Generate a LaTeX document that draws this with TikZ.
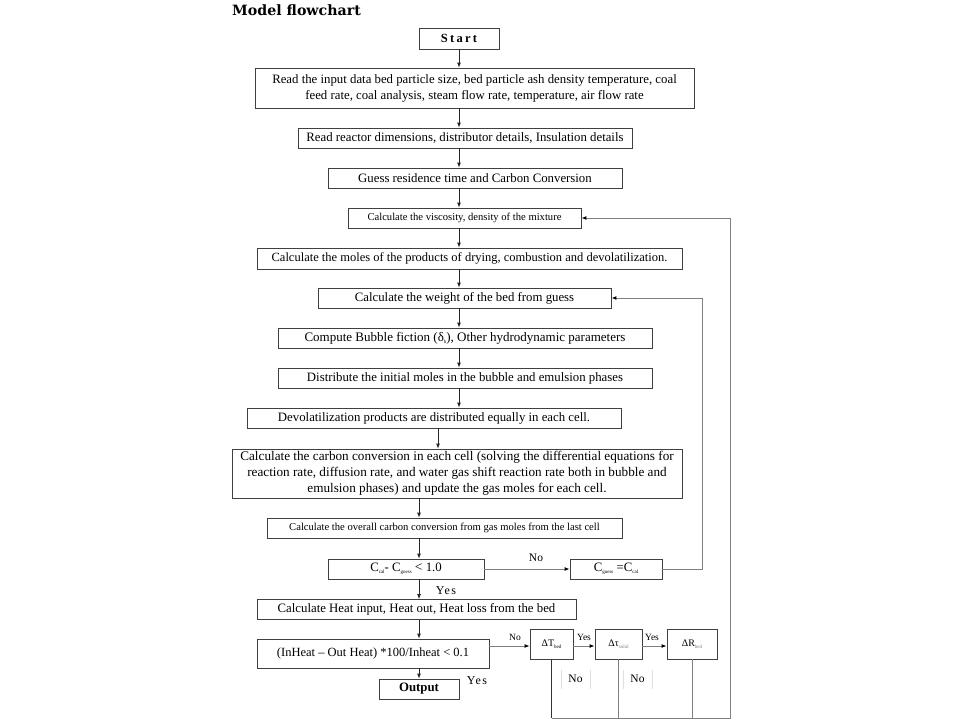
\documentclass[tikz,border=0pt]{standalone}
\usepackage{fontspec}
\setmainfont{Liberation Serif}
\newfontfamily\titlefont{DejaVu Serif}
\newfontfamily\spacedfont[LetterSpace=12]{Liberation Serif}
\newfontfamily\startfont[LetterSpace=18]{Liberation Serif}
\usetikzlibrary{arrows.meta}
\newcommand{\mysub}[1]{\raisebox{-0.35ex}{\fontsize{5}{5}\selectfont #1}}
\newcommand{\fs}[1]{\fontsize{#1}{16}\selectfont}
\begin{document}
\begin{tikzpicture}[x=1pt,y=-1pt,
  box/.style={draw=black!75, line width=0.8pt, fill=white, inner sep=0pt, align=center,
    font=\fs{12.8}},
  arr/.style={draw=black!85, line width=0.8pt, -{Latex[length=5pt,width=4pt]}},
  fb/.style={draw=black!50, line width=1pt},
  fbarr/.style={fb, -{Latex[length=5pt,width=4pt,color=black]}},
  lbl/.style={inner sep=0pt, font=\fontsize{11.5}{13}\selectfont},
  ylbl/.style={inner sep=0pt, font=\spacedfont\fontsize{12}{13}\selectfont},
  slbl/.style={inner sep=0pt, font=\fontsize{9.5}{11}\selectfont},
  faint/.style={draw=black!12, line width=0.6pt}]
\useasboundingbox (0,0) rectangle (960,720);
\fill[white] (0,0) rectangle (960,720);

\node[anchor=west, inner sep=0pt, font=\titlefont\bfseries\fontsize{14.2}{16}\selectfont] (title) at (232,10) {Model flowchart};

% main column boxes
\node[box, minimum width=80, minimum height=21, font=\startfont\bfseries\fontsize{12.5}{13}\selectfont] (start) at (459,38.5) {Start};
\node[box, minimum width=439, minimum height=40] (input) at (474.5,88) {Read the input data bed particle size, bed particle ash density temperature, coal\\feed rate, coal analysis, steam flow rate, temperature, air flow rate};
\node[box, minimum width=334, minimum height=20] (reactor) at (465,138) {Read reactor dimensions, distributor details, Insulation details};
\node[box, minimum width=294, minimum height=20, font=\fs{12.8}] (guess) at (475,178) {Guess residence time and Carbon Conversion};
\node[box, minimum width=233, minimum height=20, font=\fs{10.6}] (visc) at (464.5,218) {Calculate the viscosity, density of the mixture};
\node[box, minimum width=425, minimum height=21, font=\fs{12.5}] (moles) at (469.5,258.5) {\raisebox{-2pt}{Calculate the moles of the products of drying, combustion and devolatilization.}};
\node[box, minimum width=293, minimum height=20] (weight) at (464.5,298) {\raisebox{-3pt}{Calculate the weight of the bed from guess}};
\node[box, minimum width=374, minimum height=20, font=\fs{13}] (bubble) at (465,338) {\raisebox{-3pt}{Compute Bubble fiction (δ\mysub{b}), Other hydrodynamic parameters}};
\node[box, minimum width=374, minimum height=20] (distr) at (465,378) {\raisebox{-1pt}{Distribute the initial moles in the bubble and emulsion phases}};
\node[box, minimum width=374, minimum height=20] (devol) at (434,418) {\raisebox{-2pt}{Devolatilization products are distributed equally in each cell.}};
\node[box, minimum width=450, minimum height=49, font=\fs{13.2}] (carbon) at (457,473.5) {\raisebox{-2pt}{\parbox{448pt}{\centering Calculate the carbon conversion in each cell (solving the differential equations for\\reaction rate, diffusion rate, and water gas shift reaction rate both in bubble and\\emulsion phases) and update the gas moles for each cell.}}};
\node[box, minimum width=355, minimum height=20, font=\fs{10.6}] (overall) at (444.5,528) {Calculate the overall carbon conversion from gas moles from the last cell};
\node[box, minimum width=156, minimum height=20] (ccal) at (406,569) {C\mysub{cal}- C\mysub{guess} {\fontsize{13.5}{14}\selectfont <} 1.0};
\node[box, minimum width=92, minimum height=20] (cguess) at (616,569) {C\mysub{guess} =C\mysub{cal}};
\node[box, minimum width=319, minimum height=20] (heat) at (416.5,609.5) {Calculate Heat input, Heat out, Heat loss from the bed};
\node[box, minimum width=232, minimum height=29, font=\fs{12.5}] (inheat) at (373,653.5) {(InHeat – Out Heat) *100/Inheat < 0.1};
\node[box, minimum width=80, minimum height=20, font=\bfseries\fontsize{12.8}{13}\selectfont] (output) at (419,689) {Output};

% check boxes
\node[box, minimum width=43, minimum height=30, font=\fontsize{10}{12}\selectfont] (dT) at (551.5,644) {ΔT\mysub{bed}};
\node[box, minimum width=47, minimum height=30, font=\fontsize{10}{12}\selectfont] (dtau) at (618.5,644) {Δτ\mysub{\color{black!50}solid}};
\node[box, minimum width=50, minimum height=30, font=\fontsize{10}{12}\selectfont] (dR) at (692,644) {ΔR\mysub{\color{black!50}bed}};

% axes for vertical arrows
\coordinate (axA) at (459,0);
\coordinate (axB) at (438,0);
\coordinate (axC) at (419,0);

\draw[arr] (start.south -| axA) -- (input.north -| axA);
\draw[arr] (input.south -| axA) -- (reactor.north -| axA);
\draw[arr] (reactor.south -| axA) -- (guess.north -| axA);
\draw[arr] (guess.south -| axA) -- (visc.north -| axA);
\draw[arr] (visc.south -| axA) -- (moles.north -| axA);
\draw[arr] (moles.south -| axA) -- (weight.north -| axA);
\draw[arr] (weight.south -| axA) -- (bubble.north -| axA);
\draw[arr] (bubble.south -| axA) -- (distr.north -| axA);
\draw[arr] (distr.south -| axA) -- (devol.north -| axA);
\draw[arr] (devol.south -| axB) -- (carbon.north -| axB);
\draw[arr] (carbon.south -| axC) -- (overall.north -| axC);
\draw[arr] (overall.south -| axC) -- (ccal.north -| axC);
\draw[arr] (ccal.south -| axC) -- (heat.north -| axC);
\draw[arr] (heat.south -| axC) -- (inheat.north -| axC);
\draw[arr] (inheat.south -| axC) -- (output.north -| axC);

% decision arrows
\draw[fbarr] (ccal.east) -- (cguess.west);
\coordinate (rowD) at (0,646);
\draw[fbarr] (inheat.east |- rowD) -- (dT.west |- rowD);
\draw[fbarr] (dT.east |- rowD) -- (dtau.west |- rowD);
\draw[fbarr] (dtau.east |- rowD) -- (dR.west |- rowD);

% feedback loops
\coordinate (inR) at (702,0);
\draw[fbarr] (cguess.east) -| (inR |- weight.east) -- (weight.east);
\coordinate (fbR) at (730,718);
\draw[fb, draw=black!80] (dT.south) -- (dT.south |- fbR);
\draw[fbarr] (dT.south |- fbR) -- (fbR) |- (visc.east);
\draw[fb] (dtau.south) -- (dtau.south |- fbR);
\draw[fb] (dR.south) -- (dR.south |- fbR);

% labels
\node[lbl] (lNo1) at (536,558) {No};
\node[ylbl] (lYes1) at (446,591) {Yes};
\node[ylbl] (lYes2) at (477,681) {Yes};
\node[slbl] (lNo2) at (515,637) {No};
\node[slbl] (lYes3) at (584,637) {Yes};
\node[slbl] (lYes4) at (652,637) {Yes};
\node[lbl] (lNo3) at (575.5,678.5) {No};
\node[lbl] (lNo4) at (637.5,678.5) {No};
\draw[faint] (561,670) -- (561,689);
\draw[faint] (590,670) -- (590,689);
\draw[faint] (623,670) -- (623,689);
\draw[faint] (652,670) -- (652,689);
\end{tikzpicture}
\end{document}
